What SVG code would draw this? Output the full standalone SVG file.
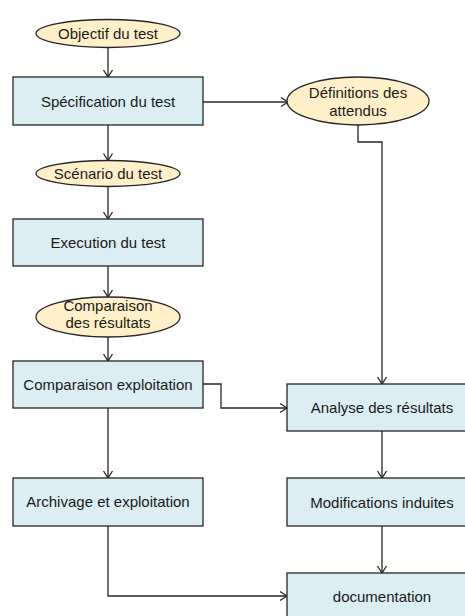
<svg xmlns="http://www.w3.org/2000/svg" width="465" height="616" viewBox="0 0 465 616">
<defs>
<style>
.box{fill:#dbeef3;stroke:#262626;stroke-width:1.3}
.ell{fill:#fff0c9;stroke:#262626;stroke-width:1.3}
.t{font-family:"Liberation Sans",Arial,sans-serif;font-size:15px;fill:#1a1a1a;text-anchor:middle}
.c{fill:none;stroke:#262626;stroke-width:1.3}
</style>
<marker id="ar" markerUnits="userSpaceOnUse" markerWidth="12" markerHeight="12" refX="10" refY="6" orient="auto">
<path d="M3,1.5 L10,6 L3,10.5" fill="none" stroke="#262626" stroke-width="1.3"/>
</marker>
</defs>
<rect width="465" height="616" fill="#ffffff"/>
<g id="connectors">
<path class="c" d="M108,47.5 V77" marker-end="url(#ar)"/>
<path class="c" d="M203,102 H288" marker-end="url(#ar)"/>
<path class="c" d="M108,125 V160.5" marker-end="url(#ar)"/>
<path class="c" d="M108,186 V219" marker-end="url(#ar)"/>
<path class="c" d="M108,266 V297" marker-end="url(#ar)"/>
<path class="c" d="M108,337 V361" marker-end="url(#ar)"/>
<path class="c" d="M203,384 H221 V408 H287" marker-end="url(#ar)"/>
<path class="c" d="M358,125 V142 H382 V384" marker-end="url(#ar)"/>
<path class="c" d="M108,408 V478" marker-end="url(#ar)"/>
<path class="c" d="M382,431 V478" marker-end="url(#ar)"/>
<path class="c" d="M382,526 V573" marker-end="url(#ar)"/>
<path class="c" d="M108,526 V596 H287" marker-end="url(#ar)"/>
</g>
<g id="objectif">
<ellipse class="ell" cx="108" cy="33.5" rx="72" ry="14"/>
<text class="t" x="108" y="38.5">Objectif du test</text>
</g>
<g id="specification">
<rect class="box" x="13" y="77" width="190" height="48"/>
<text class="t" x="108" y="106.5">Spécification du test</text>
</g>
<g id="definitions">
<ellipse class="ell" cx="358" cy="101" rx="71" ry="24"/>
<text class="t" x="358" y="97.5">Définitions des</text>
<text class="t" x="358" y="116">attendus</text>
</g>
<g id="scenario">
<ellipse class="ell" cx="108" cy="173.5" rx="72" ry="13"/>
<text class="t" x="108" y="178.5">Scénario du test</text>
</g>
<g id="execution">
<rect class="box" x="13" y="219" width="190" height="47"/>
<text class="t" x="108" y="248">Execution du test</text>
</g>
<g id="comparaison-resultats">
<ellipse class="ell" cx="108" cy="317" rx="72" ry="20"/>
<text class="t" x="108" y="311">Comparaison</text>
<text class="t" x="108" y="328">des résultats</text>
</g>
<g id="comparaison-exploitation">
<rect class="box" x="13" y="361" width="190" height="47"/>
<text class="t" x="108" y="390">Comparaison exploitation</text>
</g>
<g id="analyse">
<rect class="box" x="287" y="384" width="190" height="47"/>
<text class="t" x="382" y="413">Analyse des résultats</text>
</g>
<g id="archivage">
<rect class="box" x="13" y="478" width="190" height="48"/>
<text class="t" x="108" y="507">Archivage et exploitation</text>
</g>
<g id="modifications">
<rect class="box" x="287" y="478" width="190" height="48"/>
<text class="t" x="382" y="507.5">Modifications induites</text>
</g>
<g id="documentation">
<rect class="box" x="287" y="573" width="190" height="48"/>
<text class="t" x="382" y="601.5">documentation</text>
</g>
</svg>
